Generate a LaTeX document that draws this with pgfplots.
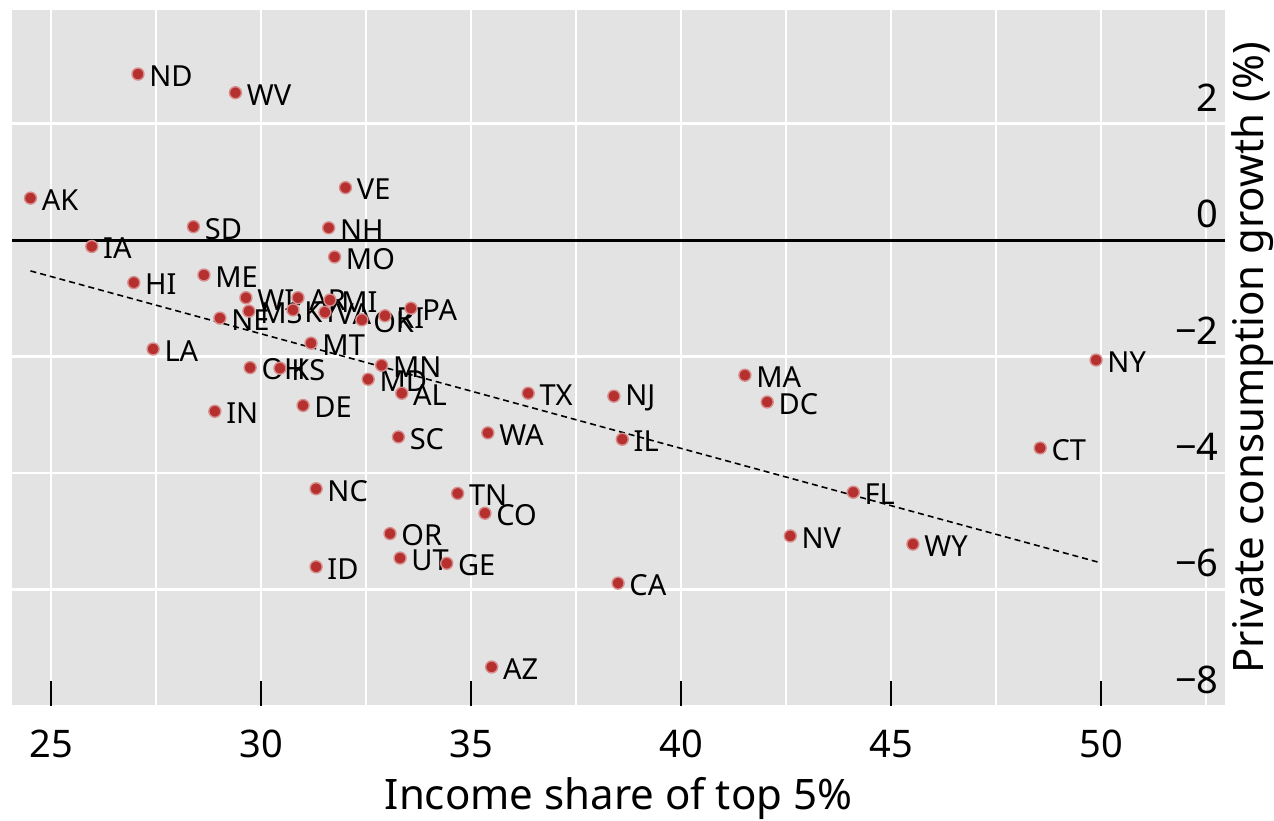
\documentclass[border=0pt]{standalone}
\usepackage{pgfplots}
\usepackage{pgfplotstable}
\pgfplotsset{compat=1.18}
\usepackage{fontspec}
\setmainfont{Noto Sans}

\definecolor{panelgray}{RGB}{227,227,227}
\definecolor{dotred}{RGB}{181,48,46}

% Income share of the top 5% vs. private consumption growth, by state
\pgfplotstableread{
lab x y
ND 27.07 2.85
WV 29.39 2.53
AK 24.51 0.72
SD 28.39 0.23
VE 32.01 0.90
NH 31.61 0.21
IA 25.97 -0.11
MO 31.75 -0.29
HI 26.97 -0.73
ME 28.64 -0.60
WI 29.64 -0.99
MS 29.71 -1.22
NE 29.02 -1.34
AR 30.88 -0.99
KY 30.76 -1.20
MI 31.64 -1.03
VA 31.52 -1.24
OK 32.40 -1.37
RI 32.95 -1.30
PA 33.57 -1.17
MT 31.19 -1.77
LA 27.43 -1.87
OH 29.74 -2.19
KS 30.45 -2.20
MN 32.87 -2.15
MD 32.55 -2.39
AL 33.35 -2.63
IN 28.90 -2.94
DE 31.00 -2.84
TX 36.36 -2.63
NJ 38.40 -2.68
MA 41.52 -2.32
DC 42.05 -2.78
NY 49.88 -2.06
CT 48.55 -3.57
SC 33.27 -3.38
WA 35.40 -3.31
IL 38.60 -3.42
NC 31.31 -4.27
TN 34.68 -4.35
CO 35.33 -4.69
OR 33.07 -5.04
UT 33.31 -5.46
GE 34.42 -5.55
ID 31.31 -5.61
CA 38.50 -5.89
NV 42.60 -5.08
WY 45.52 -5.22
FL 44.10 -4.33
AZ 35.49 -7.33
}\states

\begin{document}
\begin{tikzpicture}
\useasboundingbox (0,0) rectangle (637pt,410pt);
\begin{axis}[
  at={(6pt,57pt)}, anchor=south west,
  scale only axis,
  width=606.5pt, height=348pt,
  xmin=24.07, xmax=52.95,
  ymin=-8, ymax=3.95,
  axis background/.style={fill=panelgray},
  axis line style={draw=none},
  xtick={25,30,...,50},
  minor xtick={27.5,32.5,...,52.5},
  ytick={-8,-6,...,2},
  yticklabels={−8,−6,−4,−2,0,2},
  grid=both,
  major grid style={white, line width=1.2pt},
  minor grid style={white, line width=1.2pt},
  tick align=inside,
  xtick pos=left,
  major tick length=12.5pt,
  minor tick length=0pt,
  xtick style={black, line width=1pt},
  ytick style={draw=none},
  yticklabel pos=right,
  /pgf/number format/assume math mode=true,
  tick label style={font=\fontsize{19}{22}\selectfont, text=black},
  xticklabel style={anchor=north, inner sep=0pt, yshift=-12pt},
  yticklabel style={anchor=south east, inner sep=0pt, xshift=-3pt, yshift=6pt},
  xlabel={Income share of top 5\%},
  ylabel={Private consumption growth (\%)},
  every axis x label/.style={at={(rel axis cs:0.5,0)}, anchor=north, inner sep=0pt, yshift=-35.5pt, font=\fontsize{21}{25}\selectfont},
  every axis y label/.style={at={(rel axis cs:1,0.5)}, xshift=3pt, rotate=90, anchor=north, inner sep=0pt, font=\fontsize{21}{25}\selectfont},
  clip=false,
]
% fitted trend
\addplot[black, line width=0.8pt, dash pattern=on 3pt off 2pt] coordinates {(24.51,-0.53) (49.93,-5.53)};
% zero line
\addplot[black, line width=1.5pt] coordinates {(24.07,0) (52.95,0)};
% state labels
\addplot[only marks, mark=*, mark size=0pt, mark options={draw=none, fill=none},
  nodes near coords, point meta=explicit symbolic,
  every node near coord/.append style={anchor=west, inner sep=0pt, xshift=5.5pt, yshift=-1pt,
    text=black, font=\fontsize{14.5}{16}\selectfont}]
  table[x=x, y=y, meta=lab] {\states};
% state points
\addplot[only marks, mark=*, mark size=3pt,
  mark options={fill=dotred, draw=dotred!55, line width=0.7pt}]
  table[x=x, y=y] {\states};
\end{axis}
\end{tikzpicture}
\end{document}
